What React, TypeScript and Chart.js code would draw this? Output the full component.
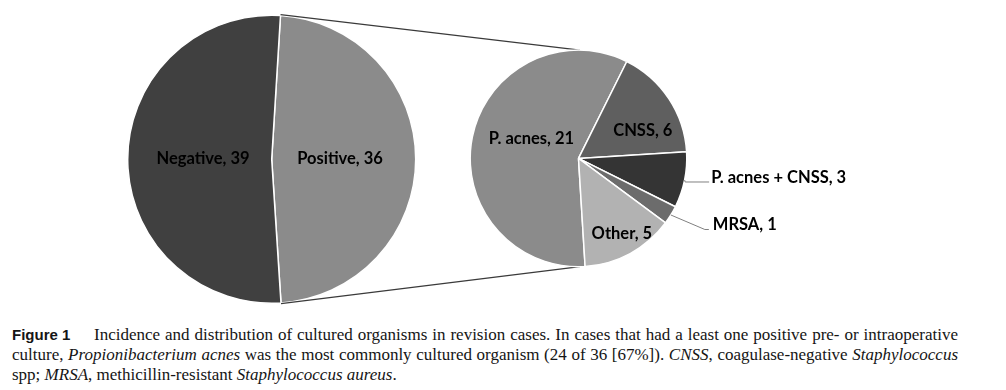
import React, { useEffect, useRef } from "react";
import { Chart, registerables } from "chart.js";

Chart.register(...registerables);

// ---------- data ----------
const outerLabels = ["Positive", "Negative"];
const outerValues = [36, 39];
const outerColors = ["#8b8b8b", "#404040"];

const innerLabels = ["P. acnes", "CNSS", "P. acnes + CNSS", "MRSA", "Other"];
const innerValues = [21, 6, 3, 1, 5];
const innerColors = ["#8b8b8b", "#5f5f5f", "#343434", "#6c6c6c", "#b2b2b2"];

const captionTitle = "Figure 1";
const captionLine1 =
  "Incidence and distribution of cultured organisms in revision cases. In cases that had a least one positive pre- or intraoperative";

// ---------- layout ----------
const W = 1006;
const H = 318;
const BW = 1.5;
const BIG = { cx: 271.7, cy: 159.2, r: 144, rotation: 3.5 };
const SMALL = { cx: 578.5, cy: 158.4, r: 108.3, rotation: 176.5 };

type Placement =
  | { mode: "in"; frac: number; dAngle: number }
  | { mode: "out"; elbow: [number, number]; tail: number; gap: number; base: number };

const bigPlacement: Placement[] = [
  { mode: "in", frac: 0.474, dAngle: -0.7 },
  { mode: "in", frac: 0.477, dAngle: 0.9 },
];
const smallPlacement: Placement[] = [
  { mode: "in", frac: 0.47, dAngle: 11 },
  { mode: "in", frac: 0.645, dAngle: 10.5 },
  { mode: "out", elbow: [0.5, 2], tail: 24, gap: 2, base: 1 },
  { mode: "out", elbow: [34, 14.5], tail: 4, gap: 4, base: 1 },
  { mode: "in", frac: 0.8, dAngle: -1.5 },
];

function padFor(g: { cx: number; cy: number; r: number }) {
  const R = g.r + BW / 2;
  return { left: g.cx - R, top: g.cy - R, right: W - (g.cx + R), bottom: H - (g.cy + R) };
}

function labelPlugin(id: string, labels: string[], values: number[], placements: Placement[]) {
  return {
    id,
    afterDatasetsDraw(chart: any) {
      const ctx = chart.ctx as CanvasRenderingContext2D;
      const meta = chart.getDatasetMeta(0);
      ctx.save();
      ctx.font = "bold 16.5px Lato";
      ctx.fillStyle = "#000";
      meta.data.forEach((arc: any, i: number) => {
        const { x, y, startAngle, endAngle, outerRadius } = arc.getProps(
          ["x", "y", "startAngle", "endAngle", "outerRadius"],
          true
        );
        const mid = (startAngle + endAngle) / 2;
        const text = `${labels[i]}, ${values[i]}`;
        const p = placements[i];
        if (p.mode === "in") {
          const a = mid + (p.dAngle * Math.PI) / 180;
          const r = outerRadius * p.frac;
          ctx.textAlign = "center";
          ctx.textBaseline = "middle";
          ctx.fillText(text, x + r * Math.cos(a), y + r * Math.sin(a));
        } else {
          const ex = x + outerRadius * Math.cos(mid);
          const ey = y + outerRadius * Math.sin(mid);
          const bx = ex + p.elbow[0];
          const by = ey + p.elbow[1];
          const tx = bx + p.tail;
          ctx.strokeStyle = "#808080";
          ctx.lineWidth = 1;
          ctx.beginPath();
          ctx.moveTo(ex, ey);
          ctx.lineTo(bx, by);
          ctx.lineTo(tx, by);
          ctx.stroke();
          ctx.textAlign = "left";
          ctx.textBaseline = "alphabetic";
          ctx.fillText(text, tx + p.gap, by + p.base);
        }
      });
      ctx.restore();
    },
  };
}

export default function App() {
  const bigRef = useRef<HTMLCanvasElement | null>(null);
  const smallRef = useRef<HTMLCanvasElement | null>(null);

  useEffect(() => {
    if (!bigRef.current || !smallRef.current) return;
    const common = {
      responsive: false,
      animation: false as const,
      events: [] as any[],
      plugins: { legend: { display: false }, tooltip: { enabled: false }, title: { display: false } },
    };
    const big = new Chart(bigRef.current, {
      type: "pie",
      data: {
        labels: outerLabels,
        datasets: [
          {
            data: outerValues,
            backgroundColor: outerColors,
            borderColor: "#ffffff",
            borderWidth: BW,
            hoverBorderWidth: BW,
            hoverOffset: 0,
          },
        ],
      },
      options: {
        ...common,
        rotation: BIG.rotation,
        layout: { padding: padFor(BIG) },
      },
      plugins: [labelPlugin("bigLabels", outerLabels, outerValues, bigPlacement)],
    } as any);

    const connector = {
      id: "connector",
      beforeDatasetsDraw(chart: any) {
        const arc = big.getDatasetMeta(0).data[0] as any;
        const small = chart.getDatasetMeta(0).data[0] as any;
        if (!arc || !small) return;
        const b = arc.getProps(["x", "y", "startAngle", "endAngle", "outerRadius"], true);
        const s = small.getProps(["x", "y", "outerRadius"], true);
        const R = b.outerRadius + BW / 2;
        const ctx = chart.ctx as CanvasRenderingContext2D;
        ctx.save();
        ctx.strokeStyle = "#3a3a3a";
        ctx.lineWidth = 1.2;
        ctx.beginPath();
        ctx.moveTo(b.x + R * Math.cos(b.startAngle), b.y + R * Math.sin(b.startAngle));
        ctx.lineTo(s.x + 1.5, s.y - s.outerRadius);
        ctx.moveTo(b.x + R * Math.cos(b.endAngle), b.y + R * Math.sin(b.endAngle));
        ctx.lineTo(s.x + 1.5, s.y + s.outerRadius);
        ctx.stroke();
        ctx.restore();
      },
    };

    const small = new Chart(smallRef.current, {
      type: "pie",
      data: {
        labels: innerLabels,
        datasets: [
          {
            data: innerValues,
            backgroundColor: innerColors,
            borderColor: "#ffffff",
            borderWidth: BW,
            hoverBorderWidth: BW,
            hoverOffset: 0,
          },
        ],
      },
      options: {
        ...common,
        rotation: SMALL.rotation,
        layout: { padding: padFor(SMALL) },
      },
      plugins: [connector, labelPlugin("smallLabels", innerLabels, innerValues, smallPlacement)],
    } as any);

    return () => {
      small.destroy();
      big.destroy();
    };
  }, []);

  const serif = '"Liberation Serif", "Times New Roman", serif';
  return (
    <div
      style={{
        position: "absolute",
        left: 0,
        top: 0,
        width: W,
        height: 390,
        background: "#fff",
        overflow: "hidden",
      }}
    >
      <canvas ref={bigRef} width={W} height={H} style={{ position: "absolute", left: 0, top: 0, width: W, height: H }} />
      <canvas ref={smallRef} width={W} height={H} style={{ position: "absolute", left: 0, top: 0, width: W, height: H }} />
      <div
        style={{
          position: "absolute",
          left: 12,
          top: 325,
          width: 946,
          fontFamily: serif,
          fontSize: 17,
          lineHeight: "20px",
          color: "#151515",
        }}
      >
        <div style={{ display: "flex", alignItems: "baseline" }}>
          <span
            style={{
              fontFamily: '"Liberation Sans", Arial, sans-serif',
              fontWeight: "bold",
              fontSize: 15,
              width: 82,
              flex: "0 0 82px",
            }}
          >
            {captionTitle}
          </span>
          <span style={{ flex: 1, textAlign: "justify", textAlignLast: "justify" }}>{captionLine1}</span>
        </div>
        <div style={{ textAlign: "justify", textAlignLast: "justify" }}>
          culture, <i>Propionibacterium acnes</i> was the most commonly cultured organism (24 of 36 [67%]).{" "}
          <i>CNSS</i>, coagulase-negative <i>Staphylococcus</i>
        </div>
        <div>
          spp; <i>MRSA</i>, methicillin-resistant <i>Staphylococcus aureus</i>.
        </div>
      </div>
    </div>
  );
}
